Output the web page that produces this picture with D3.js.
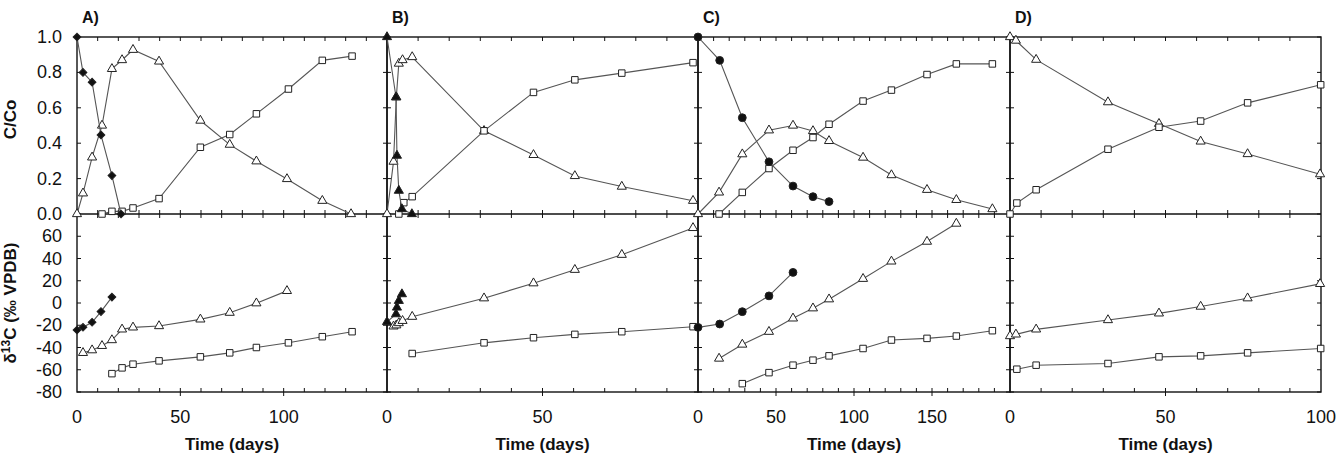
<!DOCTYPE html>
<html><head><meta charset="utf-8">
<script src="https://cdn.jsdelivr.net/npm/d3@7"></script>
<style>body{margin:0;background:#fff}svg{display:block}text{font-family:"Liberation Sans",Arial,sans-serif;fill:#111}</style>
</head><body><svg id="c" width="1339" height="455"></svg>
<script>
// ---------- data ----------
const panelLabels = ["A)", "B)", "C)", "D)"];
const xMaxDays = [150, 100, 200, 100];
const xTickLabels = [[0, 50, 100], [0, 50], [0, 50, 100, 150], [0, 50, 100]];
const concTicks = [0, 0.2, 0.4, 0.6, 0.8, 1.0];
const deltaTicks = [-80, -60, -40, -20, 0, 20, 40, 60];

// Panel A
const aDiaT = [0, 2.9, 7.3, 11.6, 16.9, 21.3];
const aDiaC = [1.0, 0.80, 0.745, 0.447, 0.217, 0.0];
const aDiaD = [-24.3, -21.8, -17.3, -7.7, 5.3, null];
const aTriT = [0, 2.9, 7.3, 12.1, 16.9, 21.8, 27.1, 39.7, 59.7, 73.9, 86.8, 101.6, 118.7, 132.6];
const aTriC = [0, 0.117, 0.32, 0.50, 0.82, 0.87, 0.928, 0.862, 0.528, 0.392, 0.298, 0.198, 0.075, 0.0];
const aTriD = [null, -44.8, -42.4, -38.5, -33.3, -23.7, -21.9, -20.7, -14.7, -8.7, -0.2, 10.9, null, null];
const aSqT = [12.1, 16.9, 21.8, 27.1, 39.7, 59.7, 73.9, 86.8, 102.3, 118.7, 133.1];
const aSqC = [0.0, 0.015, 0.015, 0.034, 0.087, 0.377, 0.449, 0.566, 0.706, 0.868, 0.892];
const aSqD = [null, -63.5, -58.3, -55.0, -52.0, -48.4, -44.8, -40.0, -35.8, -30.3, -25.8];

// Panel B
const bFTriT = [0, 2.9, 3.2, 3.8, 4.8, 8.0];
const bFTriC = [1.0, 0.66, 0.33, 0.132, 0.028, 0.0];
const bFTriD = [-17, -10, -4, 2, 8, null];
const bTriT = [0, 2.1, 3.0, 3.8, 5.0, 8.1, 31.2, 47.1, 60.4, 75.5, 98.4];
const bTriC = [0, 0.296, 0.66, 0.85, 0.87, 0.887, 0.47, 0.334, 0.215, 0.155, 0.075];
const bTriD = [null, -21, -20, -18, -16, -12.3, 4.3, 17.8, 29.9, 43.4, 67.5];
const bSqT = [3.8, 5.4, 8.1, 31.2, 47.1, 60.4, 75.5, 98.4];
const bSqC = [0, 0.064, 0.098, 0.47, 0.687, 0.758, 0.796, 0.855];
const bSqD = [null, null, -45.4, -35.8, -31.2, -28.2, -25.8, -21.3];

// Panel C
const cCirT = [0, 13.9, 28.4, 45.5, 60.9, 73.7, 84.0];
const cCirC = [1.0, 0.868, 0.544, 0.295, 0.158, 0.098, 0.07];
const cCirD = [-21.9, -18.9, -7.8, 6.4, 27.5, null, null];
const cTriT = [0, 13.5, 28.4, 45.5, 60.9, 73.7, 84.0, 105.8, 124, 146.8, 165.6, 188.7];
const cTriC = [0, 0.122, 0.338, 0.473, 0.5, 0.469, 0.413, 0.319, 0.22, 0.137, 0.08, 0.028];
const cTriD = [null, -49.9, -37.3, -25.8, -13.8, -4.7, 3.4, 21.8, 37.4, 55.2, 71.4, null];
const cSqT = [13.5, 28.4, 45.5, 60.9, 73.7, 84.0, 105.8, 124, 146.8, 165.6, 188.7];
const cSqC = [0, 0.122, 0.257, 0.36, 0.432, 0.507, 0.638, 0.70, 0.788, 0.848, 0.848];
const cSqD = [null, -72.5, -62.6, -55.9, -51.4, -47.5, -40.9, -33.3, -31.8, -29.7, -24.9];

// Panel D
const dTriT = [0, 1.9, 8.4, 31.5, 47.9, 61.3, 76.4, 99.7];
const dTriC = [1.0, 0.98, 0.872, 0.632, 0.51, 0.41, 0.339, 0.225];
const dTriD = [-29.7, -28.2, -23.7, -15.3, -9.3, -3.2, 4.3, 17.2];
const dSqT = [0, 2.2, 8.4, 31.5, 47.9, 61.3, 76.4, 99.9];
const dSqC = [0, 0.062, 0.137, 0.366, 0.49, 0.525, 0.628, 0.73];
const dSqD = [null, -59.5, -55.9, -54.4, -48.4, -47.5, -44.8, -40.9];

const panelSeries = [
  [{t: aTriT, c: aTriC, d: aTriD, sym: "tri", fill: false},
   {t: aSqT, c: aSqC, d: aSqD, sym: "sq", fill: false},
   {t: aDiaT, c: aDiaC, d: aDiaD, sym: "dia", fill: true}],
  [{t: bTriT, c: bTriC, d: bTriD, sym: "tri", fill: false},
   {t: bSqT, c: bSqC, d: bSqD, sym: "sq", fill: false},
   {t: bFTriT, c: bFTriC, d: bFTriD, sym: "tri", fill: true}],
  [{t: cTriT, c: cTriC, d: cTriD, sym: "tri", fill: false},
   {t: cSqT, c: cSqC, d: cSqD, sym: "sq", fill: false},
   {t: cCirT, c: cCirC, d: cCirD, sym: "cir", fill: true}],
  [{t: dTriT, c: dTriC, d: dTriD, sym: "tri", fill: false},
   {t: dSqT, c: dSqC, d: dSqD, sym: "sq", fill: false}]
];

// ---------- layout ----------
const svg = d3.select("#c");
const panelX = [77, 387, 698, 1010, 1321];
const topY = 37, midY = 214, botY = 392;
const yC = d3.scaleLinear().domain([0, 1]).range([midY, topY]);
const yD = d3.scaleLinear().domain([-80, 80]).range([botY, midY]);

const symMap = {
  tri: d3.symbol().type(d3.symbolTriangle).size(36),
  sq: d3.symbol().type(d3.symbolSquare).size(42),
  dia: d3.symbol().type(d3.symbolSquare).size(30),
  cir: d3.symbol().type(d3.symbolCircle).size(48)
};

panelSeries.forEach((series, p) => {
  const x = d3.scaleLinear().domain([0, xMaxDays[p]]).range([panelX[p], panelX[p + 1]]);
  const g = svg.append("g");

  const minor = d3.range(10, xMaxDays[p], 10);
  const tk = g.append("g").attr("stroke", "#111").attr("stroke-width", 1);
  minor.forEach(v => {
    const xx = x(v);
    tk.append("line").attr("x1", xx).attr("x2", xx).attr("y1", topY).attr("y2", topY + 4);
    tk.append("line").attr("x1", xx).attr("x2", xx).attr("y1", midY - 4).attr("y2", midY + 4);
    tk.append("line").attr("x1", xx).attr("x2", xx).attr("y1", botY - 4).attr("y2", botY + (v % 50 === 0 ? 4 : 0));
  });
  concTicks.forEach(v => {
    [[panelX[p], 4], [panelX[p + 1], -4]].forEach(([xx, dx]) => {
      tk.append("line").attr("x1", xx).attr("x2", xx + dx).attr("y1", yC(v)).attr("y2", yC(v));
    });
  });
  deltaTicks.forEach(v => {
    [[panelX[p], 4], [panelX[p + 1], -4]].forEach(([xx, dx]) => {
      tk.append("line").attr("x1", xx).attr("x2", xx + dx).attr("y1", yD(v)).attr("y2", yD(v));
    });
  });

  g.append("rect").attr("x", panelX[p]).attr("y", topY).attr("width", panelX[p + 1] - panelX[p])
    .attr("height", botY - topY).attr("fill", "none").attr("stroke", "#111").attr("stroke-width", 1.4);
  g.append("line").attr("x1", panelX[p]).attr("x2", panelX[p + 1]).attr("y1", midY).attr("y2", midY)
    .attr("stroke", "#111").attr("stroke-width", 1.4);

  g.selectAll(".xl").data(xTickLabels[p]).join("text")
    .attr("x", d => x(d)).attr("y", 423).attr("text-anchor", "middle")
    .attr("font-size", 18).text(d => d);
  g.append("text").attr("x", (panelX[p] + panelX[p + 1]) / 2).attr("y", 450)
    .attr("text-anchor", "middle").attr("font-size", 17).attr("font-weight", "bold").text("Time (days)");
  g.append("text").attr("x", panelX[p] + 5).attr("y", 23).attr("font-size", 16)
    .attr("font-weight", "bold").text(panelLabels[p]);

  series.forEach(s => {
    const ptsC = s.t.map((t, i) => [t, s.c[i]]).filter(d => d[1] != null);
    const ptsD = s.t.map((t, i) => [t, s.d[i]]).filter(d => d[1] != null);
    const lc = d3.line().x(d => x(d[0])).y(d => yC(d[1]));
    const ld = d3.line().x(d => x(d[0])).y(d => yD(d[1]));
    g.append("path").attr("d", lc(ptsC)).attr("fill", "none").attr("stroke", "#555").attr("stroke-width", 1.1);
    g.append("path").attr("d", ld(ptsD)).attr("fill", "none").attr("stroke", "#555").attr("stroke-width", 1.1);
    const rot = s.sym === "dia" ? " rotate(45)" : "";
    [[ptsC, yC], [ptsD, yD]].forEach(([pts, ys]) => {
      g.selectAll(null).data(pts).join("path")
        .attr("d", symMap[s.sym])
        .attr("transform", d => `translate(${x(d[0])},${ys(d[1])})${rot}`)
        .attr("fill", s.fill ? "#111" : "#fff").attr("stroke", "#222").attr("stroke-width", 1);
    });
  });
});

svg.selectAll(".yc").data(concTicks).join("text")
  .attr("x", 62).attr("y", d => yC(d) + 6).attr("text-anchor", "end").attr("font-size", 18)
  .text(d => d.toFixed(1));
svg.selectAll(".yd").data(deltaTicks).join("text")
  .attr("x", 62).attr("y", d => yD(d) + 6).attr("text-anchor", "end").attr("font-size", 18)
  .text(d => d);

svg.append("text").attr("transform", `translate(16,${(topY + midY) / 2 - 6}) rotate(-90)`)
  .attr("text-anchor", "middle").attr("font-size", 17).attr("font-weight", "bold").text("C/Co");
const yt = svg.append("text").attr("transform", `translate(16,${(midY + botY) / 2}) rotate(-90)`)
  .attr("text-anchor", "middle").attr("font-size", 17).attr("font-weight", "bold");
yt.append("tspan").text("δ");
yt.append("tspan").attr("dy", -6).attr("font-size", 12).text("13");
yt.append("tspan").attr("dy", 6).text("C (‰ VPDB)");
</script></body></html>
